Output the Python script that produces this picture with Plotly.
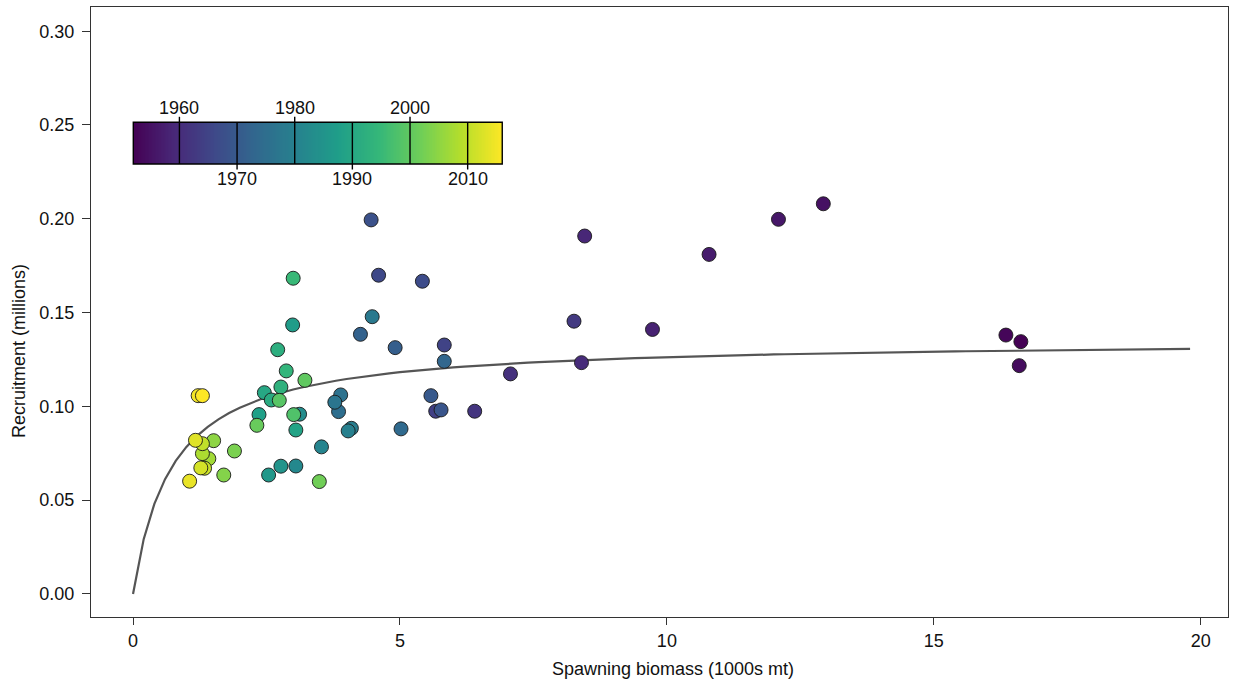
import numpy as np
import plotly.graph_objects as go

# Stock-recruitment observations by year
years = [1952, 1953, 1954, 1955, 1956, 1957, 1958, 1959, 1960, 1961,
         1962, 1963, 1964, 1965, 1966, 1967, 1968, 1969, 1970, 1971,
         1972, 1973, 1974, 1975, 1976, 1977, 1978, 1979, 1980, 1981,
         1982, 1983, 1985, 1986, 1987, 1988, 1989, 1990, 1991, 1992,
         1993, 1994, 1995, 1998, 1999, 2000, 2001, 2002, 2003, 2004,
         2005, 2007, 2008, 2010, 2011, 2012, 2013, 2014, 2015, 2016]
spawning_biomass = [16.63, 16.35, 16.60, 12.93, 12.09, 10.79, 9.73, 8.46, 8.40, 7.07,
                    6.40, 8.26, 5.67, 5.83, 4.60, 5.42, 4.46, 5.77, 5.58, 4.91,
                    4.26, 5.83, 5.02, 3.85, 3.89, 3.78, 4.48, 4.09, 4.03, 3.53,
                    3.05, 3.12, 2.77, 2.54, 2.99, 2.36, 3.05, 2.46, 2.59, 2.71,
                    2.77, 2.87, 3.00, 3.01, 2.74, 3.22, 2.32, 3.49, 1.90, 1.70,
                    1.51, 1.42, 1.30, 1.30, 1.34, 1.27, 1.17, 1.06, 1.22, 1.30]
recruitment = [0.1345, 0.1380, 0.1217, 0.2080, 0.1997, 0.1810, 0.1410, 0.1908, 0.1233, 0.1173,
               0.0974, 0.1454, 0.0974, 0.1327, 0.1699, 0.1667, 0.1994, 0.0981, 0.1057, 0.1313,
               0.1384, 0.1240, 0.0880, 0.0972, 0.1061, 0.1022, 0.1478, 0.0883, 0.0869, 0.0784,
               0.0682, 0.0958, 0.0681, 0.0634, 0.1434, 0.0956, 0.0874, 0.1073, 0.1034, 0.1302,
               0.1103, 0.1189, 0.1683, 0.0956, 0.1032, 0.1139, 0.0899, 0.0599, 0.0762, 0.0634,
               0.0817, 0.0721, 0.0748, 0.0801, 0.0670, 0.0672, 0.0819, 0.0601, 0.1057, 0.1057]

# Beverton-Holt stock-recruitment fit
bh_alpha = 0.1354
bh_beta = 0.7275
ssb_grid = np.arange(0.0, 19.81, 0.2)
rec_fit = bh_alpha * ssb_grid / (bh_beta + ssb_grid)

year_min, year_max = 1952, 2016
x_ticks = [0, 5, 10, 15, 20]
y_ticks = [0.00, 0.05, 0.10, 0.15, 0.20, 0.25, 0.30]
cbar_ticks = [1960, 1970, 1980, 1990, 2000, 2010]

FONT = "Liberation Sans, Arial, sans-serif"
INK = "#111111"

# placement of the year key (paper coordinates)
KEY_X = [0.0372, 0.3617]
KEY_Y = [0.7426, 0.811]
KEY_TICK = 0.009

fig = go.Figure()

fig.add_trace(go.Scatter(
    x=ssb_grid, y=rec_fit, mode="lines",
    line=dict(color="#555555", width=2.2),
    hoverinfo="skip", showlegend=False,
))

fig.add_trace(go.Scatter(
    x=spawning_biomass, y=recruitment, mode="markers",
    marker=dict(size=14, color=years, colorscale="Viridis",
                cmin=year_min, cmax=year_max, showscale=False,
                line=dict(color="#1a1a1a", width=0.9)),
    text=[str(y) for y in years],
    hovertemplate="%{text}<br>SSB %{x}<br>R %{y}<extra></extra>",
    showlegend=False,
))

# Year colour key drawn as a gradient strip
n_bins = 256
dx = (year_max - year_min) / n_bins
gradient = [[year_min + dx * (i + 0.5) for i in range(n_bins)]]
fig.add_trace(go.Heatmap(
    z=gradient, x0=year_min + dx / 2, dx=dx, y=[0.5],
    colorscale="Viridis", zmin=year_min, zmax=year_max,
    showscale=False, hoverinfo="skip",
    xaxis="x2", yaxis="y2",
))

shapes = [dict(type="rect", xref="paper", yref="paper", x0=KEY_X[0], x1=KEY_X[1],
               y0=KEY_Y[0], y1=KEY_Y[1], line=dict(color="black", width=1.4))]
annotations = []
for i, yr in enumerate(cbar_ticks):
    top = (i % 2 == 0)
    xp = KEY_X[0] + (yr - year_min) / (year_max - year_min) * (KEY_X[1] - KEY_X[0])
    shapes.append(dict(type="line", xref="paper", yref="paper", x0=xp, x1=xp,
                       y0=KEY_Y[0] if top else KEY_Y[0] - KEY_TICK,
                       y1=KEY_Y[1] + KEY_TICK if top else KEY_Y[1],
                       line=dict(color="black", width=1.4)))
    annotations.append(dict(xref="paper", yref="paper", x=xp, xanchor="center",
                            y=KEY_Y[1] + KEY_TICK if top else KEY_Y[0] - KEY_TICK,
                            yanchor="bottom" if top else "top",
                            text=str(yr), showarrow=False,
                            font=dict(size=18, color=INK, family=FONT),
                            yshift=-3 if top else 3))

# axis titles
annotations.append(dict(xref="paper", yref="paper", x=-0.0633, y=0.436,
                        xanchor="center", yanchor="middle", textangle=-90,
                        text="Recruitment (millions)", showarrow=False,
                        font=dict(size=18, color=INK, family=FONT)))
annotations.append(dict(xref="paper", yref="paper", x=0.5119, y=-0.0852,
                        xanchor="center", yanchor="middle",
                        text="Spawning biomass (1000s mt)", showarrow=False,
                        font=dict(size=18, color=INK, family=FONT)))

fig.update_layout(
    width=1235, height=683,
    margin=dict(l=91, r=7, t=7, b=66),
    paper_bgcolor="white", plot_bgcolor="white",
    font=dict(family=FONT, size=18, color=INK),
    shapes=shapes, annotations=annotations,
    xaxis=dict(range=[-0.787, 20.51], tickvals=x_ticks,
               ticks="outside", ticklen=7, tickcolor="#333333",
               showline=True, mirror=True, linecolor="#333333", linewidth=1,
               showgrid=False, zeroline=False),
    yaxis=dict(range=[-0.0123, 0.3129], tickvals=y_ticks,
               ticktext=[f"{v:.2f}" for v in y_ticks],
               ticks="outside", ticklen=8, tickcolor="#333333",
               ticklabelstandoff=4,
               showline=True, mirror=True, linecolor="#333333", linewidth=1,
               showgrid=False, zeroline=False),
    xaxis2=dict(domain=KEY_X, anchor="y2", range=[year_min, year_max],
                visible=False, fixedrange=True),
    yaxis2=dict(domain=KEY_Y, anchor="x2", range=[0, 1],
                visible=False, fixedrange=True),
)

fig.write_html("out.html")
